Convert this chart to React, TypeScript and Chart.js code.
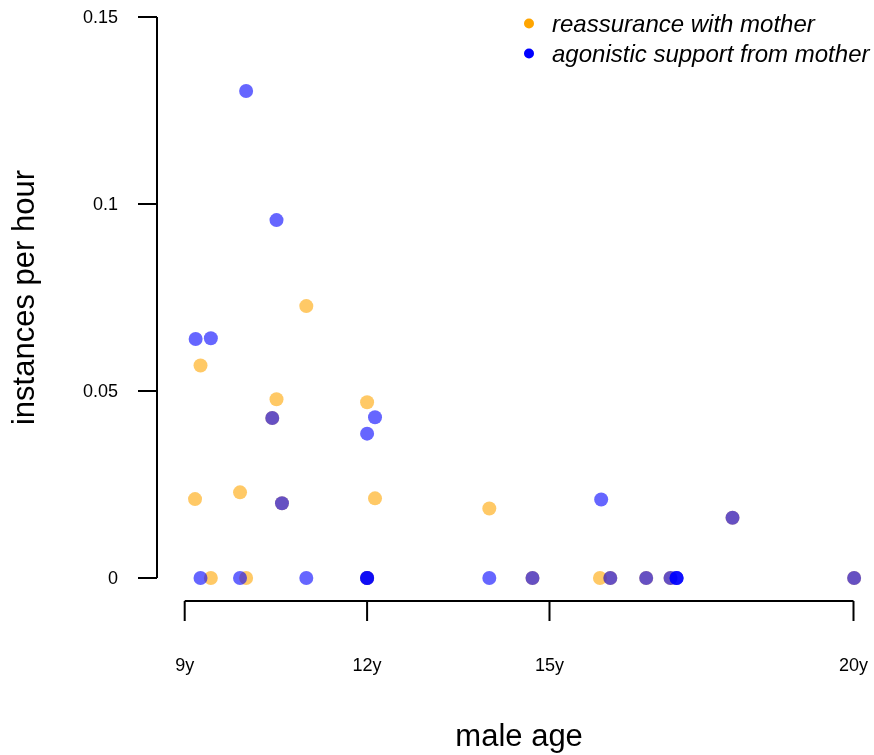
import React, { useEffect, useRef } from "react";
import { Chart, registerables } from "chart.js";

Chart.register(...registerables);

// reassurance with mother: ages (years, jittered) and rates (instances per hour)
const reassuranceAge = [9.26, 9.17, 9.43, 9.91, 10.01, 10.51, 10.44, 10.6, 11.0, 12.0, 12.13, 12.0, 14.01, 14.72, 15.83, 16.0, 16.59, 16.99, 18.01, 20.01];
const reassuranceRate = [0.0568, 0.0211, 0, 0.0229, 0, 0.0478, 0.0428, 0.02, 0.0727, 0.047, 0.0213, 0, 0.0186, 0, 0, 0, 0, 0, 0.0161, 0];

// agonistic support from mother
const supportAge = [10.01, 10.51, 9.18, 9.43, 10.44, 12.13, 12.0, 10.6, 9.26, 9.91, 11.0, 12.0, 12.0, 12.0, 14.01, 15.85, 14.72, 16.0, 16.59, 16.99, 17.09, 17.09, 17.09, 18.01, 20.01];
const supportRate = [0.1302, 0.0957, 0.0639, 0.0641, 0.0428, 0.043, 0.0386, 0.02, 0, 0, 0, 0, 0, 0, 0, 0.021, 0, 0, 0, 0, 0, 0, 0, 0.0161, 0];

const xTicks = [9, 12, 15, 20];
const xTickLabels = ["9y", "12y", "15y", "20y"];
const yTicks = [0, 0.05, 0.1, 0.15];
const yTickLabels = ["0", "0.05", "0.1", "0.15"];

const seriesNames = ["reassurance with mother", "agonistic support from mother"];
const seriesColors = ["rgb(255,165,0)", "rgb(0,0,255)"];
const seriesFills = ["rgba(255,165,0,0.6)", "rgba(0,0,255,0.6)"];

const xTitle = "male age";
const yTitle = "instances per hour";

const FONT = "'Liberation Sans', Arial, Helvetica, sans-serif";

const rAxesPlugin = {
  id: "rAxes",
  afterDraw(chart: any) {
    const ctx = chart.ctx as CanvasRenderingContext2D;
    const xs = chart.scales.x;
    const ys = chart.scales.y;
    const area = chart.chartArea;
    ctx.save();
    ctx.strokeStyle = "#000";
    ctx.fillStyle = "#000";
    ctx.lineWidth = 2;

    // X axis (detached, R style)
    const xAxisY = area.bottom;
    const x0 = xs.getPixelForValue(xTicks[0]);
    const x1 = xs.getPixelForValue(xTicks[xTicks.length - 1]);
    ctx.beginPath();
    ctx.moveTo(x0, xAxisY);
    ctx.lineTo(x1, xAxisY);
    xTicks.forEach((t) => {
      const px = xs.getPixelForValue(t);
      ctx.moveTo(px, xAxisY);
      ctx.lineTo(px, xAxisY + 20);
    });
    ctx.stroke();
    ctx.font = `18px ${FONT}`;
    ctx.textAlign = "center";
    ctx.textBaseline = "alphabetic";
    xTicks.forEach((t, i) => {
      ctx.fillText(xTickLabels[i], xs.getPixelForValue(t), xAxisY + 70);
    });

    // Y axis
    const yAxisX = area.left;
    const y0 = ys.getPixelForValue(yTicks[0]);
    const y1 = ys.getPixelForValue(yTicks[yTicks.length - 1]);
    ctx.beginPath();
    ctx.moveTo(yAxisX, y0);
    ctx.lineTo(yAxisX, y1);
    yTicks.forEach((t) => {
      const py = ys.getPixelForValue(t);
      ctx.moveTo(yAxisX, py);
      ctx.lineTo(yAxisX - 19, py);
    });
    ctx.stroke();
    ctx.textAlign = "right";
    ctx.textBaseline = "middle";
    yTicks.forEach((t, i) => {
      ctx.fillText(yTickLabels[i], yAxisX - 39, ys.getPixelForValue(t) + 1);
    });

    // Axis titles
    ctx.font = `31px ${FONT}`;
    ctx.textAlign = "center";
    ctx.textBaseline = "alphabetic";
    ctx.fillText(xTitle, (x0 + x1) / 2, 746);
    ctx.save();
    ctx.translate(34, (y0 + y1) / 2);
    ctx.rotate(-Math.PI / 2);
    ctx.fillText(yTitle, 0, 0);
    ctx.restore();

    // Legend
    ctx.font = `italic 24px ${FONT}`;
    ctx.textAlign = "left";
    ctx.textBaseline = "alphabetic";
    seriesNames.forEach((name, i) => {
      const cy = 23.5 + i * 30;
      ctx.beginPath();
      ctx.fillStyle = seriesColors[i];
      ctx.arc(529, cy, 5, 0, Math.PI * 2);
      ctx.fill();
      ctx.fillStyle = "#000";
      ctx.fillText(name, 552, cy + 8);
    });
    ctx.restore();
  },
};

export default function App() {
  const ref = useRef<HTMLCanvasElement | null>(null);
  useEffect(() => {
    if (!ref.current) return;
    const chart = new Chart(ref.current, {
      type: "scatter",
      data: {
        datasets: [
          {
            label: seriesNames[0],
            data: reassuranceAge.map((x, i) => ({ x, y: reassuranceRate[i] })),
            backgroundColor: seriesFills[0],
            borderWidth: 0,
            pointRadius: 7,
            clip: false as any,
            order: 2,
          },
          {
            label: seriesNames[1],
            data: supportAge.map((x, i) => ({ x, y: supportRate[i] })),
            backgroundColor: seriesFills[1],
            borderWidth: 0,
            pointRadius: 7,
            clip: false as any,
            order: 1,
          },
        ],
      },
      options: {
        responsive: false,
        devicePixelRatio: 1,
        animation: false,
        layout: { padding: { left: 157, right: 2.3, top: 17, bottom: 154 } },
        plugins: { legend: { display: false }, tooltip: { enabled: false } },
        events: [],
        scales: {
          x: { type: "linear", min: 8.5444, max: 20.222, display: false },
          y: { type: "linear", min: -0.00615, max: 0.15, display: false },
        },
      },
      plugins: [rAxesPlugin],
    });
    return () => chart.destroy();
  }, []);
  return (
    <div style={{ position: "absolute", left: 0, top: 0, width: 874, height: 755, background: "#fff" }}>
      <canvas ref={ref} width={874} height={755} style={{ width: 874, height: 755, display: "block" }} />
    </div>
  );
}
